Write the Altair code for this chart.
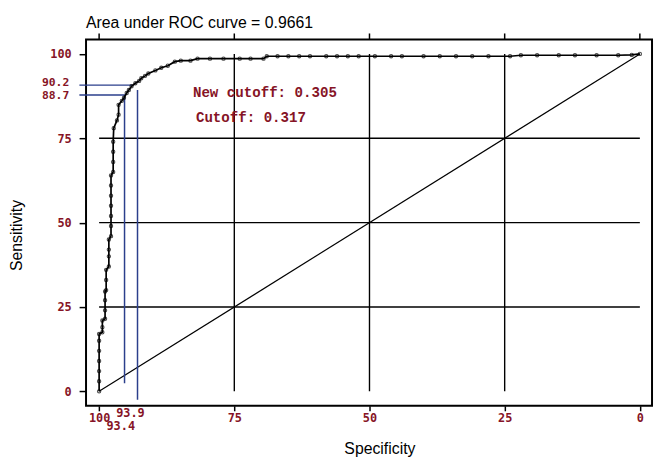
import altair as alt
import pandas as pd

# ROC curve points (Specificity %, Sensitivity %)
spec = [100, 100, 100, 100, 100, 100, 100,
        99.4, 99.4, 99.4,
        98.9, 98.9, 98.9, 98.9,
        98.7, 98.7, 98.7,
        98.2, 98.2, 98.2, 98.2,
        97.8, 97.8, 97.8, 97.8, 97.8, 97.8, 97.8,
        97.4, 97.4, 97.4, 97.4, 97.3,
        96.7, 96.4, 96.4, 95.8, 95.4, 94.9, 94.5, 94.0, 93.3, 92.6, 92.2, 91.5,
        90.9, 89.6, 88.5, 87.3, 86.0, 84.9, 83.1, 81.8, 79.5, 77.0, 74.0, 72.0, 69.6,
        69.0, 67.0, 65.0, 63.0, 61.0, 58.0, 56.0, 54.0, 52.0, 49.0, 46.0, 44.0,
        40.0, 37.0, 34.0, 31.0, 28.0, 24.0,
        22.0, 19.0, 15.0, 12.0, 8.0, 4.0, 1.5, 0.0]
sens = [0, 3, 6, 9, 12, 15, 17,
        17.5, 19, 21,
        21.5, 24, 27, 29.6,
        30, 33, 36,
        37, 40, 42, 45,
        46, 49, 52, 55, 58, 61, 64,
        65, 68, 71, 74, 78,
        80.3, 82, 84.9, 86.1, 87.0, 88.4, 89.3, 90.4, 91.3, 92.0, 92.8, 93.5,
        94.2, 95.1, 95.9, 96.5, 97.7, 98.0, 98.0, 98.6, 98.6, 98.6, 98.6, 98.6, 98.6,
        99.3, 99.3, 99.3, 99.3, 99.3, 99.3, 99.3, 99.3, 99.3, 99.3, 99.3, 99.3,
        99.3, 99.3, 99.3, 99.3, 99.3, 99.3,
        99.6, 99.6, 99.6, 99.6, 99.6, 99.6, 99.7, 100]

tick_values = [100, 75, 50, 25, 0]
grid_values = [75, 50, 25]

title_text = "Area under ROC curve = 0.9661"

# cutoff guide lines (blue)
h_y = [90.75, 87.8]
h_x_start = [103.65, 103.65]
h_x_end = [93.8, 95.1]
v_x = [95.3, 92.9]
v_y_top = [87.8, 89.3]
v_y_bottom = [2.4, -2.5]

# extra labels for the cutoff values
ylab_text = ["90.2", "88.7"]
ylab_y = [91.5, 87.4]
xlab_text = ["93.9", "93.4"]
xlab_x = [94.2, 96.0]
xlab_y = [-6.3, -10.2]

note_text = ["New cutoff: 0.305", "Cutoff: 0.317"]
note_x = [82.65, 82.1]
note_y = [87.1, 79.7]

RED = "#861426"
BLUE = "#2b3f8c"

X = alt.Scale(domain=[102.42, -2.25], nice=False, zero=False)
Y = alt.Scale(domain=[-4.3, 104.3], nice=False, zero=False)

curve_df = pd.DataFrame({"spec": spec, "sens": sens, "ord": list(range(len(spec)))})

x_axis = alt.Axis(values=tick_values, title="Specificity", labelColor=RED,
                  labelFont="DejaVu Sans Mono", labelFontWeight="bold", labelFontSize=12,
                  tickSize=5, tickColor="black", tickWidth=1.5, domain=False, grid=False,
                  labelPadding=2, labelFlush=False, labelOverlap=False,
                  titleFont="Liberation Sans", titleFontSize=16, titleFontWeight="normal",
                  titleColor="black", titleX=297, titleY=43, titleBaseline="middle",
                  titleAlign="center")
y_axis = alt.Axis(values=tick_values, title="Sensitivity", labelColor=RED,
                  labelFont="DejaVu Sans Mono", labelFontWeight="bold", labelFontSize=12,
                  tickSize=7, tickColor="black", tickWidth=1.5, domain=False, grid=False,
                  labelPadding=8, labelFlush=False, labelOverlap=False,
                  titleFont="Liberation Sans", titleFontSize=16, titleFontWeight="normal",
                  titleColor="black", titleX=-70, titleY=198, titleBaseline="middle",
                  titleAlign="center", titleAngle=-90)


def xq(field):
    return alt.X(field, scale=X, axis=x_axis)


def yq(field):
    return alt.Y(field, scale=Y, axis=y_axis)


line = alt.Chart(curve_df).mark_line(color="black", strokeWidth=1.7).encode(
    x=xq("spec:Q"), y=yq("sens:Q"), order="ord:Q",
)
points = alt.Chart(curve_df).mark_point(shape="circle", size=11, filled=False,
                                        color="black", strokeWidth=1.1).encode(
    x=xq("spec:Q"), y=yq("sens:Q"),
)

grid_df = pd.DataFrame({"g": grid_values, "a": [100] * 3, "b": [0] * 3})
hgrid = alt.Chart(grid_df).mark_rule(color="black", strokeWidth=1.4).encode(
    y=yq("g:Q"), x=xq("a:Q"), x2="b:Q",
)
vgrid = alt.Chart(grid_df).mark_rule(color="black", strokeWidth=1.4).encode(
    x=xq("g:Q"), y=yq("b:Q"), y2="a:Q",
)
top_ticks = alt.Chart(pd.DataFrame({"t": tick_values})).mark_rule(color="black", strokeWidth=1.5).encode(
    x=xq("t:Q"), y=alt.value(-6), y2=alt.value(0),
)
diag = alt.Chart(pd.DataFrame({"a": [100, 0], "b": [0, 100]})).mark_line(
    color="black", strokeWidth=1.2).encode(
    x=xq("a:Q"), y=yq("b:Q"),
)

hblue = alt.Chart(pd.DataFrame({"y": h_y, "x1": h_x_start, "x2": h_x_end})).mark_rule(
    color=BLUE, strokeWidth=1.5).encode(
    y=yq("y:Q"), x=xq("x1:Q"), x2="x2:Q",
)
vblue = alt.Chart(pd.DataFrame({"x": v_x, "y1": v_y_top, "y2": v_y_bottom})).mark_rule(
    color=BLUE, strokeWidth=1.5).encode(
    x=xq("x:Q"), y=yq("y1:Q"), y2="y2:Q",
)

ylabs = alt.Chart(pd.DataFrame({"t": ylab_text, "y": ylab_y})).mark_text(
    align="right", baseline="middle", font="DejaVu Sans Mono", fontWeight="bold",
    fontSize=11.5, color=RED).encode(
    x=alt.value(-17), y=yq("y:Q"), text="t:N",
)
xlabs = alt.Chart(pd.DataFrame({"t": xlab_text, "x": xlab_x, "y": xlab_y})).mark_text(
    align="center", baseline="middle", font="DejaVu Sans Mono", fontWeight="bold",
    fontSize=12, color=RED).encode(
    x=xq("x:Q"), y=yq("y:Q"), text="t:N",
)
notes = alt.Chart(pd.DataFrame({"t": note_text, "x": note_x, "y": note_y})).mark_text(
    align="left", baseline="alphabetic", font="Liberation Mono", fontWeight="bold",
    fontSize=14.3, color=RED).encode(
    x=xq("x:Q"), y=yq("y:Q"), text="t:N",
)
title = alt.Chart(pd.DataFrame({"t": [title_text]})).mark_text(
    align="left", baseline="alphabetic", font="Liberation Sans", fontSize=16,
    color="black").encode(
    x=alt.value(0), y=alt.value(-12), text="t:N",
)

chart = alt.layer(hgrid, vgrid, diag, hblue, vblue, line, points, top_ticks,
                  ylabs, xlabs, notes, title).properties(
    width=573, height=371,
    autosize=alt.AutoSizeParams(type="none"),
    padding={"left": 79, "top": 29, "right": 2, "bottom": 50},
    background="white",
).configure_view(stroke="black", strokeWidth=2)

chart.save("out.html", embed_options={"renderer": "svg", "actions": False})
